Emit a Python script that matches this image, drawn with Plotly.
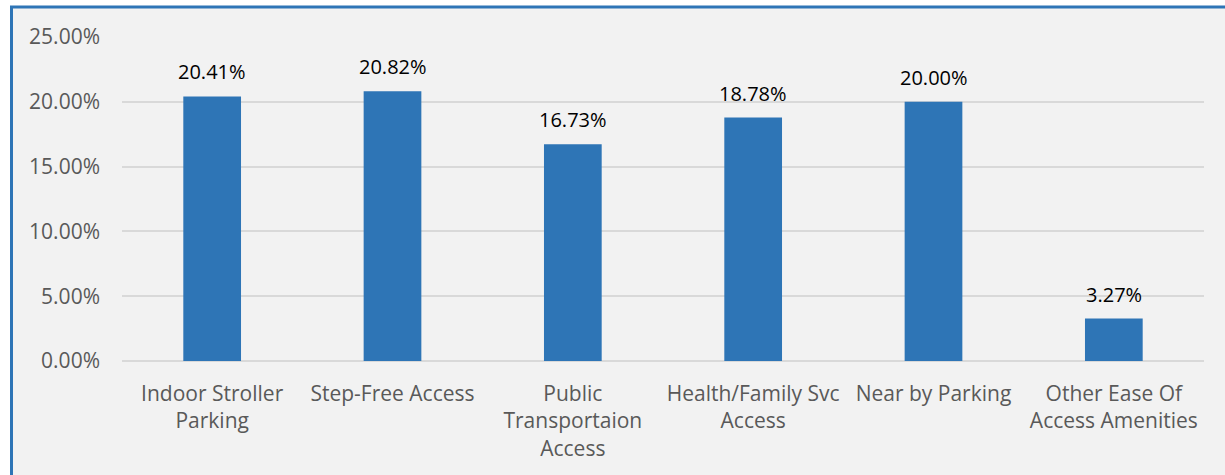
import plotly.graph_objects as go

# Share of respondents selecting each ease-of-access amenity
categories = [
    "Indoor Stroller<br>Parking",
    "Step-Free Access",
    "Public<br>Transportaion<br>Access",
    "Health/Family Svc<br>Access",
    "Near by Parking",
    "Other Ease Of<br>Access Amenities",
]
shares = [20.41, 20.82, 16.73, 18.78, 20.00, 3.27]
y_ticks = [0, 5, 10, 15, 20, 25]
y_tick_labels = [f"{v:.2f}%" for v in y_ticks]

BLUE = "#2E75B6"
PANEL = "#F2F2F2"
GRID = "#D9D9D9"
FONT = "Open Sans, Noto Sans, sans-serif"

W, H = 1225, 475

fig = go.Figure()
fig.add_trace(go.Bar(
    x=categories,
    y=shares,
    marker=dict(color=BLUE, line=dict(width=0)),
    hoverinfo="skip",
))

# value labels above each bar
for cat, val in zip(categories, shares):
    fig.add_annotation(
        x=cat, y=val, xref="x", yref="y",
        text=f"{val:.2f}%", showarrow=False,
        yanchor="bottom", yshift=9,
        font=dict(family=FONT, size=20, color="#000000"),
    )

# chart panel with blue frame on top and left (right/bottom run off the page)
fig.add_shape(
    type="rect", xref="paper", yref="paper",
    x0=11.5 / W, x1=1.1, y0=-0.2, y1=1 - 7 / H,
    fillcolor=PANEL, line=dict(color=BLUE, width=3), layer="below",
)

fig.update_layout(
    width=W, height=H,
    margin=dict(l=0, r=0, t=0, b=0),
    paper_bgcolor="#FFFFFF",
    plot_bgcolor=PANEL,
    showlegend=False,
    bargap=0.68,
    font=dict(family=FONT, color="#595959"),
    xaxis=dict(
        domain=[122 / W, 1204 / W],
        automargin=False,
        showgrid=False, showline=False, ticks="",
        tickfont=dict(family=FONT, size=21, color="#595959"),
        ticklabelstandoff=18,
    ),
    yaxis=dict(
        domain=[(H - 361) / H, (H - 37) / H],
        automargin=False,
        range=[0, 25],
        tickvals=y_ticks, ticktext=y_tick_labels,
        showgrid=True, gridcolor=GRID, gridwidth=1.5,
        zeroline=True, zerolinecolor=GRID, zerolinewidth=1.5,
        showline=False, ticks="",
        tickfont=dict(family=FONT, size=21, color="#595959"),
        ticklabelstandoff=21,
    ),
)

fig.write_html("out.html")
